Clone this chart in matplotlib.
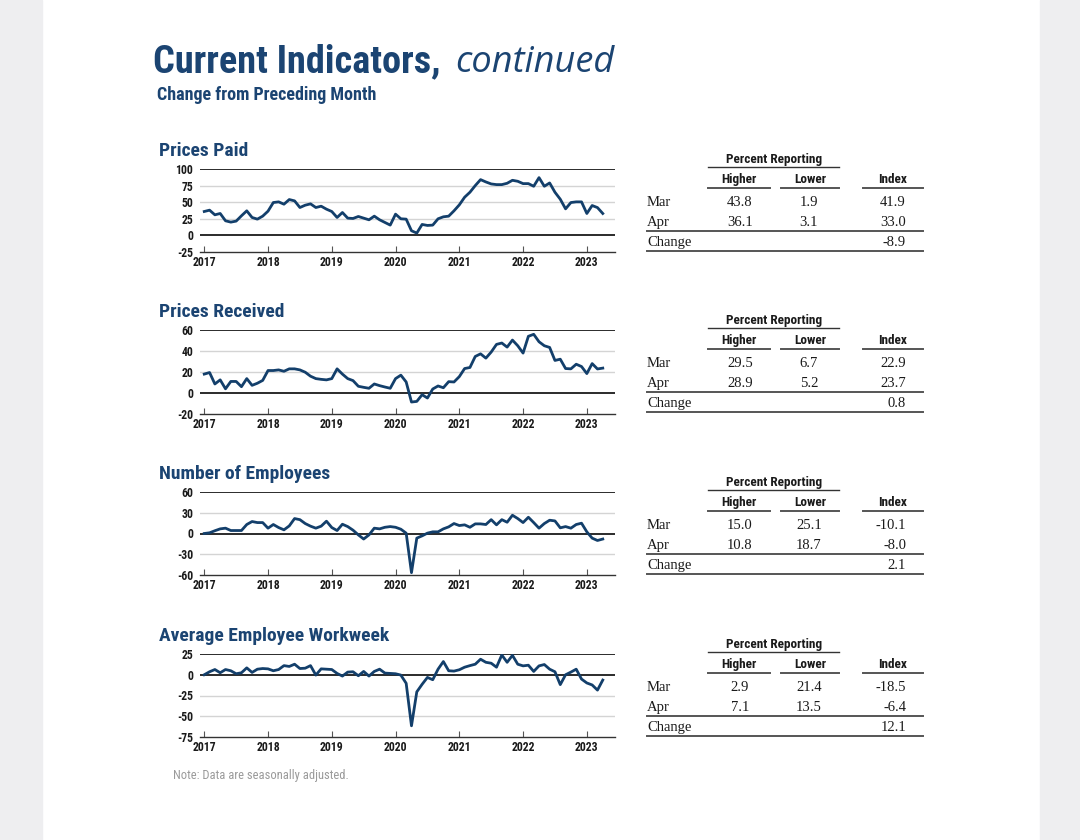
import numpy as np
import matplotlib
matplotlib.use("Agg")
import matplotlib.pyplot as plt
from matplotlib.lines import Line2D
from matplotlib import font_manager

# === Données (mensuel janv. 2017 - avr. 2023) ===
year_labels = ["2017", "2018", "2019", "2020", "2021", "2022", "2023"]

prices_paid = [36, 38, 31, 33, 22, 20, 21.5, 29.5, 37, 27, 24.5, 29,
               36.5, 49.5, 50.5, 47, 54, 52, 42, 45.5, 47.5, 42, 44, 39.5,
               36, 27, 34.5, 26, 25.5, 28.5, 26, 23.5, 29, 23.5, 19.5, 15.5,
               32, 25, 24.5, 7, 3.5, 16.5, 15, 15.5, 25, 28, 29, 37,
               46, 57.5, 65, 75, 84, 80.5, 77.5, 76.5, 76.5, 78.5, 83, 81.5,
               78, 78, 74, 87, 74, 79, 65, 54.5, 40, 49.5, 50.5, 50.5,
               33, 45, 41.9, 33.0]

prices_received = [18, 19.5, 8.6, 12.5, 4, 11, 11, 6, 13.7, 7.3, 9.3, 12,
                   21.4, 21.4, 22, 20.7, 23, 23, 22, 19.8, 16, 13.7, 13, 12.5,
                   13.7, 23, 18, 13.7, 11.8, 6.4, 5.4, 4.5, 8.6, 7, 5.7, 4.5,
                   13.7, 17, 10.5, -8.6, -8, -1.6, -4.8, 3.8, 6.7, 5, 10.8, 10.5,
                   15.6, 23.3, 24.3, 34.8, 37.3, 33.2, 39, 46.3, 47.6, 43.7, 50.4, 45,
                   38, 54, 55.9, 48.8, 45, 43.4, 31, 32.2, 23.3, 23, 27.4, 25.2,
                   18.5, 28, 22.9, 23.7]

employees = [0, 1, 4, 6.7, 7.7, 4.3, 4.3, 4.3, 13, 17.3, 15.8, 15.8,
             7.7, 13, 8.6, 5.3, 11, 21.6, 20, 14.4, 10.6, 7.7, 10.6, 17.8,
             8.6, 4.3, 13.4, 10, 4.8, -2, -8, -2, 7.7, 6.7, 9, 10,
             9, 6.2, 0.5, -56.6, -6.7, -3.4, 0.5, 2.4, 2.4, 6.7, 9.6, 14.4,
             11.5, 12.5, 9, 13.9, 13.9, 13, 20, 12.5, 20, 16.3, 26.4, 21.6,
             15.8, 23.5, 15.8, 7.7, 14.4, 19.2, 18.2, 8.2, 10, 7.7, 13, 14.9,
             2.4, -6.7, -10.1, -8.0]

workweek = [0, 3.6, 6.3, 2.4, 6.3, 4.8, 1.2, 2.4, 8.3, 2.8, 6.7, 7.5,
            7.1, 4.8, 6.3, 11, 10, 12.7, 7.5, 7.9, 11, -0.4, 7.1, 6.7,
            6.3, 1.6, -1.6, 3.2, 3.6, -1.2, 4, -1.6, 4, 6.7, 2, 1.6,
            1.2, -0.4, -10.3, -61.5, -20.6, -11.5, -3.2, -6, 6.7, 15.9, 4.8, 4.4,
            6, 9.1, 11, 12.7, 18.7, 15, 13.9, 9.1, 23.8, 15, 23.4, 12.7,
            10.7, 11.5, 4, 10.7, 12.3, 6.7, 3.6, -11.9, 0, 3.2, 6.7, -5.2,
            -9.9, -12.3, -18.5, -6.4]

panel_titles = ["Prices Paid", "Prices Received", "Number of Employees",
                "Average Employee Workweek"]
panel_ylims = [(-25, 100), (-20, 60), (-60, 60), (-75, 25)]
panel_yticks = [[100, 75, 50, 25, 0, -25], [60, 40, 20, 0, -20],
                [60, 30, 0, -30, -60], [25, 0, -25, -50, -75]]

# tableaux : (Higher, Lower, Index) pour Mar / Apr, puis Change
table_mar = [("43.8", "1.9", "41.9"), ("29.5", "6.7", "22.9"),
             ("15.0", "25.1", "-10.1"), ("2.9", "21.4", "-18.5")]
table_apr = [("36.1", "3.1", "33.0"), ("28.9", "5.2", "23.7"),
             ("10.8", "18.7", "-8.0"), ("7.1", "13.5", "-6.4")]
table_change = ["-8.9", "0.8", "2.1", "12.1"]

# === Polices ===
available = {f.name for f in font_manager.fontManager.ttflist}
narrow = "Roboto"
for cand in ["Liberation Sans Narrow", "Roboto Condensed", "Open Sans Condensed"]:
    if cand in available:
        narrow = cand
        break
serif = "Liberation Serif"

W, H = 1080, 840
BLUE = "#1b4472"
LINE = "#133f6b"

fig = plt.figure(figsize=(W / 100, H / 100), dpi=100)
fig.patch.set_facecolor("white")


def fx(x):
    return x / W


def fy(y):
    return 1 - y / H


def hline(x0, x1, y, color="#444444", lw=1.0):
    fig.add_artist(Line2D([fx(x0), fx(x1)], [fy(y), fy(y)],
                          transform=fig.transFigure, color=color, lw=lw))


# bandes grises de la page
fig.patches.append(plt.Rectangle((0, 0), fx(42), 1, transform=fig.transFigure,
                                 color="#eeeef0", zorder=0))
fig.patches.append(plt.Rectangle((fx(1040), 0), fx(40), 1, transform=fig.transFigure,
                                 color="#eeeef0", zorder=0))

# === Titre ===
fig.text(fx(153), fy(72), "Current Indicators,", family=narrow, weight="bold",
         fontsize=27.5, color=BLUE, va="baseline")
fig.text(fx(455), fy(72), "continued", family="Open Sans", style="italic",
         fontsize=26, color=BLUE, va="baseline")
fig.text(fx(157), fy(95), "Change from Preceding Month", family=narrow, weight="bold",
         fontsize=13, color=BLUE, va="center")

tops = [169, 330, 492, 654]
bottoms = [252, 414, 575, 737]

for i in range(4):
    series = [prices_paid, prices_received, employees, workweek][i]
    top, bot = tops[i], bottoms[i]
    dy = top - 169

    fig.text(fx(159), fy(top - 18), panel_titles[i], family=narrow, weight="bold",
             fontsize=14, color=BLUE, va="center")

    ax = fig.add_axes([fx(200), fy(bot), fx(615 - 200), (bot - top) / H])
    x = np.arange(len(series))
    ylo, yhi = panel_ylims[i]
    for v in panel_yticks[i]:
        if v == ylo:
            continue
        if v == yhi or v == 0:
            ax.axhline(v, color="#1a1a1a", lw=1.3, zorder=2)
        else:
            ax.axhline(v, color="#d4d4d4", lw=1.0, zorder=1)
    ax.plot(x, series, color=LINE, lw=2.0, zorder=3, solid_joinstyle="round")
    ax.set_xlim(-0.8, 77.3)
    ax.set_ylim(ylo, yhi)
    ax.set_yticks(panel_yticks[i])
    ax.set_yticklabels([str(v) for v in panel_yticks[i]])
    ax.set_xticks(np.arange(0, 73, 12))
    ax.set_xticklabels(year_labels)
    for s in ["top", "left", "right"]:
        ax.spines[s].set_visible(False)
    ax.spines["bottom"].set_color("#333333")
    ax.spines["bottom"].set_linewidth(1.0)
    ax.tick_params(axis="x", direction="in", length=4, width=0.8, color="#555555",
                   pad=3, labelsize=8.5)
    ax.tick_params(axis="y", length=0, pad=5, labelsize=8.5)
    for lab in ax.get_xticklabels() + ax.get_yticklabels():
        lab.set_family(narrow)
        lab.set_weight("bold")
        lab.set_color("#1a1a1a")
    ax.set_facecolor("none")

    # === Tableau ===
    fig.text(fx(774), fy(163 + dy), "Percent Reporting", family=narrow, weight="bold",
             fontsize=9.5, ha="center", va="baseline", color="#1a1a1a")
    hline(708, 839, 167 + dy, color="#333333", lw=1.0)
    for cx, lab in [(739, "Higher"), (810, "Lower"), (893, "Index")]:
        fig.text(fx(cx), fy(183 + dy), lab, family=narrow, weight="bold",
                 fontsize=9.5, ha="center", va="baseline", color="#1a1a1a")
    for x0, x1 in [(708, 770), (781, 839), (863, 923)]:
        hline(x0, x1, 188 + dy, color="#555555", lw=1.4)
    for row_y, name, vals in [(206, "Mar", table_mar[i]), (226, "Apr", table_apr[i])]:
        fig.text(fx(647), fy(row_y + dy), name, family=serif, fontsize=10.5,
                 va="baseline", color="#1a1a1a")
        fig.text(fx(740), fy(row_y + dy), vals[0], family=serif, fontsize=10.5,
                 ha="center", va="baseline", color="#1a1a1a")
        fig.text(fx(809), fy(row_y + dy), vals[1], family=serif, fontsize=10.5,
                 ha="center", va="baseline", color="#1a1a1a")
        fig.text(fx(906), fy(row_y + dy), vals[2], family=serif, fontsize=10.5,
                 ha="right", va="baseline", color="#1a1a1a")
    hline(647, 923, 231 + dy, color="#555555", lw=1.4)
    fig.text(fx(647), fy(246 + dy), "Change", family=serif, fontsize=10.5,
             va="baseline", color="#1a1a1a")
    fig.text(fx(906), fy(246 + dy), table_change[i], family=serif, fontsize=10.5,
             ha="right", va="baseline", color="#1a1a1a")
    hline(647, 923, 251 + dy, color="#555555", lw=1.4)

fig.text(fx(173), fy(776), "Note: Data are seasonally adjusted.", family=narrow,
         fontsize=9, color="#9a9a9a", va="center")

fig.savefig("out.png", dpi=100)
